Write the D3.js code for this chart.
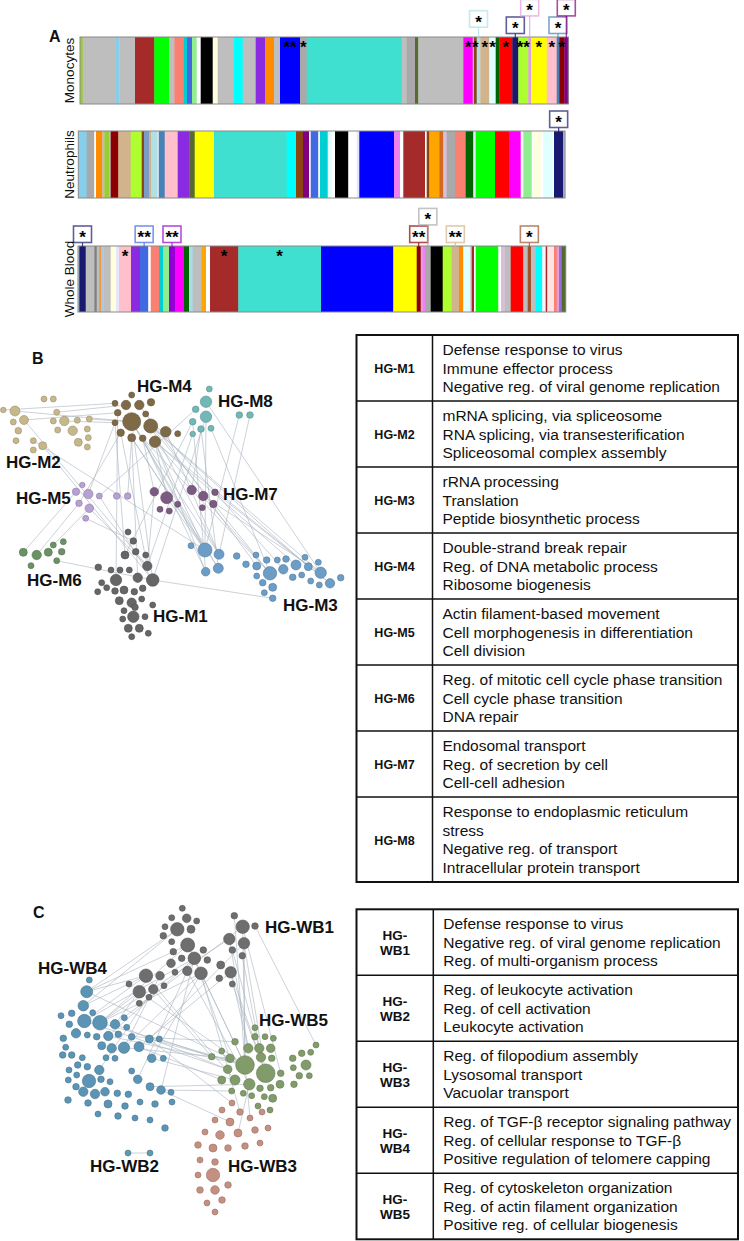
<!DOCTYPE html>
<html><head><meta charset="utf-8">
<script src="https://cdn.jsdelivr.net/npm/d3@7"></script>
<style>
body{margin:0;background:#fff}
svg{display:block}
text{font-family:"Liberation Sans",Arial,Helvetica,sans-serif}
</style>
</head><body>
<svg id="fig" width="744" height="1241"></svg>
<script>
// ---------------- DATA: Panel A (module colour bars) ----------------
const monoColors = ["yellowgreen","#bebebe","skyblue","#bebebe","brown","lime","#bebebe","salmon","darkturquoise","royalblue","lightgreen","white","black","lightyellow","#bebebe","cyan","#bebebe","blueviolet","darkorange","#bebebe","blue","darkgray","turquoise","#bebebe","darkgray","darkolivegreen","#bebebe","magenta","#bebebe","saddlebrown","powderblue","tan","lightcyan","darkgreen","red","midnightblue","greenyellow","plum","yellow","pink","steelblue","darkred","purple"];
const monoSizes = [2.7,33.3,3.3,15.7,19.3,15,5,9,3.7,5,4.7,4,12,5,16.3,8.7,13,9.3,9,6,20,6.7,95,5,8.3,3.3,45,9.4,1.3,2.7,3.6,9,6.4,3.6,13,6,10,2.7,15.7,10,2.6,5,4];
const monoStars = [[20,"**"],[21,"*"],[27,"*"],[29,"*"],[31,"*"],[32,"*"],[34,"*"],[36,"**"],[38,"*"],[39,"*"],[41,"*"]];
const monoBoxes = [[30,"*",0.36],[35,"*",0],[37,"*",1],[40,"*",0],[42,"*",1]];

const neutColors = ["skyblue","darkgray","white","darkorange","#bebebe","yellowgreen","#bebebe","darkred","tan","greenyellow","saddlebrown","#7a9cc6","tan","powderblue","white","steelblue","pink","blueviolet","darkolivegreen","yellow","turquoise","cyan","saddlebrown","purple","white","royalblue","white","darkturquoise","lightcyan","white","black","white","lavender","blue","violet","white","brown","white","saddlebrown","orange","chocolate","thistle","darkgray","salmon","darkgreen","lavender","lime","red","magenta","white","lightgreen","white","lightyellow","white","lightcyan","white","midnightblue","lightsteelblue"];
const neutSizes = [8.4,7.6,1.7,6.3,2,4.7,1.7,7.6,12.4,11,2.3,5,2,6.7,1,6,13,11.6,5.4,19.3,72.7,9.3,7,6,1.7,7.6,1.7,7.7,4,3.3,13.3,8.4,2.6,34.7,6,3.3,21.7,1.7,2.6,10,4,3.4,8.3,10.7,7.6,2.4,19.3,14,11.7,2.6,8.4,1.6,7.4,2.6,9.4,1.3,9.3,1.7];
const neutStars = [];
const neutBoxes = [[56,"*",0]];

const wbColors = ["lightsteelblue","midnightblue","#bebebe","gray","#bebebe","darkorange","lightsteelblue","#bebebe","lightyellow","lavender","pink","blueviolet","royalblue","white","salmon","darkturquoise","lightgreen","darkviolet","magenta","darkgreen","lightblue","#bebebe","orange","white","brown","turquoise","blue","yellow","darkred","plum","violet","darkgray","black","greenyellow","tan","darkorange","lightcyan","lightgray","brown","white","lime","white","thistle","#bebebe","red","#bebebe","sienna","#bebebe","cyan","lavenderblush","brown","mistyrose","salmon","plum","mediumpurple","darkolivegreen"];
const wbSizes = [1.3,6.4,8.6,2.4,2.6,1.4,2.6,7.4,5.3,3,12,9,8.3,2.4,8.3,4.3,5.7,6,9,5,3.7,9,4.3,4,28.3,82.7,72.3,23.4,4,1.6,2.7,5.7,12,9,7.3,4.3,6.7,1.7,2.3,1.7,22.6,2.7,4,5.7,12.6,4.4,3.3,4.7,6.6,3.4,1.6,6.7,2.7,2.3,2.7,4];
const wbStars = [[10,"*"],[24,"*"],[25,"*"]];
const wbBoxes = [[1,"*",0],[12,"**",0],[17,"**",0],[28,"**",0],[31,"*",1],[34,"**",0],[46,"*",0]];

const rowLabels = ["Monocytes","Neutrophils","Whole Blood"];

// ---------------- DATA: Panel B network ----------------
const colorsB = {M1:"#666666",M2:"#c6b88a",M3:"#6c9dc7",M4:"#7f6a48",M5:"#b7a1d2",M6:"#6b9265",M7:"#7c5b82",M8:"#72b8b6"};
const nodesM1 = [[128,532,3],[133.3,541,3.3],[125,555,4],[135.7,551.7,3.3],[145.7,555,3],[147.3,566,4.7],[98.3,567.3,3.3],[111,570,3],[120,570,3],[129.3,570,3],[116,580,5.7],[137.7,577.7,4.7],[152.7,580,6.3],[101.7,582.7,3],[106.7,587.7,3],[97.7,591.7,3],[115,591,3.3],[124,590,4],[134.3,591.7,3.3],[142.7,588.3,3.3],[119.3,600.7,4],[131.7,602.7,4.7],[141.7,599,3],[124,610.7,3],[135,607.3,3.3],[152.7,605,3],[133.3,616.7,5.7],[145,616.7,3],[122.7,619,3],[128.3,628.3,4],[139.3,628.3,4],[148.3,633.3,3],[131.7,636.7,3]];
const nodesM2 = [[3.3,410,2.8],[15,411,5],[44,399,3],[53.3,399,3],[13.3,422,3],[24,420,4.5],[18.3,430.7,3.3],[16,440.7,3],[33.3,440.7,3],[42.7,445.7,4],[33.3,450,3],[56.7,412.3,3],[53.3,421,3],[64.3,421,4.7],[77.3,420.3,3],[89.3,419,3],[57.7,430,3],[72.7,430.7,4.7],[87.3,429,3],[78.3,442.3,4],[88.3,437.7,3],[87.3,447,3]];
const nodesM3 = [[191,545.7,3],[205,550,7],[219,554.3,5],[205.7,571.7,4.3],[218.3,568.3,5],[236.7,556,3.3],[246,564.3,3.3],[256,555,3],[256.7,566,4],[266.7,560,3.3],[270,573.3,6.7],[256.7,576,3],[277.3,560,3],[286,559,3.3],[283.3,569.3,4.7],[296,565,5],[305,557.3,3],[308.3,566.7,4],[318.3,562.3,3],[320.7,572.7,5.7],[292.7,577.3,3.3],[301.7,575,3],[310.7,581,3],[319.3,585,3],[330,583.3,4.7],[340.7,577.7,3.3],[262.7,582.7,3.3],[272.7,587.3,4],[264.3,592.7,3],[272.7,598.3,3.3]];
const nodesM4 = [[131.7,395,3],[115,403.3,3],[126,405,4.7],[139.3,405,4.7],[151,402.3,3.7],[117.7,412.7,3.3],[145.7,414,3],[131.7,421.7,9],[150.7,426,7],[115,422.7,3],[120.7,432.7,3.7],[131.7,437.7,4],[142.7,438.3,3.3],[155,441.7,5.7],[165.7,431.7,5.3],[177.7,433.7,3]];
const nodesM5 = [[82.3,485,2.8],[76,491.7,3.7],[88.3,494,4.7],[99.3,496,3],[79,503.3,3.3],[89.3,508.3,4.3],[85.7,518.3,3],[116.7,496,3.3],[127.7,496,3.3]];
const nodesM6 = [[23.3,552.3,4],[36.7,555,4.7],[48.3,552.3,4],[53.3,545,3],[63.3,541.7,3],[61.7,551.7,3.3],[31,565.7,3],[56.7,560.7,3]];
const nodesM7 = [[154.3,491.7,4.3],[166.7,497.7,6],[177.7,504.3,3],[160,509.3,3],[169.3,511,3],[191.7,490,4.7],[203.3,496,4.7],[215,492.3,3.3],[213.3,504,3.7],[202.3,507.7,3]];
const nodesM8 = [[209.3,389,3],[206,401.7,5.7],[195.7,409.3,3.3],[206,416.7,5.7],[192.7,421.7,3.3],[201,429,3.3],[211,428.3,3],[192.7,434,2.8],[239.3,415,3.3],[250,415,3.3]];
const edgesB = ["M2.1-M4.7","M2.0-M4.1","M2.5-M4.5","M2.13-M4.9","M2.11-M4.2","M2.15-M4.7","M2.8-M3.1","M2.5-M1.5","M2.9-M1.12",
 "M4.7-M3.1","M4.7-M3.4","M4.8-M3.2","M4.8-M3.10","M4.13-M3.1","M4.13-M3.3","M4.11-M3.4","M4.12-M3.10","M4.8-M3.19","M4.13-M3.15","M4.3-M3.8","M4.6-M3.14","M4.13-M3.24","M4.8-M3.17","M4.14-M3.2","M4.11-M3.1","M4.12-M3.3","M4.7-M3.2","M4.13-M3.10",
 "M4.7-M1.12","M4.10-M1.5","M4.11-M1.11","M4.5-M1.10","M4.9-M1.2","M4.13-M7.1","M4.12-M7.0","M4.9-M5.2","M4.10-M5.4","M4.11-M5.8",
 "M8.3-M3.1","M8.4-M3.3","M8.5-M3.4","M8.8-M3.1","M8.9-M3.2","M8.6-M3.10","M8.7-M1.5","M8.3-M1.12","M8.2-M5.3","M8.5-M7.5","M8.1-M3.19","M8.4-M1.2",
 "M7.6-M3.19","M7.7-M3.24","M7.1-M3.1","M7.0-M1.5","M5.5-M1.5","M5.6-M1.1","M6.7-M1.12","M6.0-M5.1","M6.1-M5.4","M1.12-M3.29","M5.3-M1.12","M6.3-M5.5"];
const clusterLabelsB = [["HG-M4",137,392],["HG-M8",218,407],["HG-M2",6,468],["HG-M5",16,504],["HG-M7",223,500],["HG-M6",27,586],["HG-M1",153,622],["HG-M3",283,611]];

// ---------------- DATA: Panel C network ----------------
const colorsC = {WB1:"#6e6e6e",WB2:"#5e9aae",WB3:"#c49080",WB4:"#5b94b5",WB5:"#819c6a"};
const nodesWB1 = [[182.3,908.3,3],[171.7,917.7,3],[186.7,918.3,4.3],[196.7,921,3],[165,926.7,3],[177.3,929.3,6.7],[191,929.3,4],[163.3,935.7,3.3],[171.7,941.7,3],[187.7,945,7],[203.3,950,3.3],[173.3,951.7,3.3],[181.7,958.3,3.3],[194.3,958.3,6.3],[207.3,960,3.3],[171,963.3,4.3],[187.3,971,4.7],[201,973.3,6.3],[175,972.3,3],[234.3,915.7,3.3],[242.7,926.7,6.7],[255,926,3.3],[229.3,939,5.7],[244,943.3,5.7],[232.3,950,3.3],[242.3,955.7,3.3],[220.7,965,4],[230.7,972.3,5.7],[219.3,978.3,3.3],[232.3,984,3],[146,975.7,6.7],[160,975.7,4.3],[129,984,3],[139.3,991.7,6.3],[153.3,989.3,4.7],[164,985.7,3],[139.3,1003.3,3],[149,997.3,3]];
const nodesWB4 = [[89.3,980,3],[86.7,991.7,6],[83.3,1005.7,5.3],[92.7,1012.7,3],[61,1015.7,3],[71.7,1013.3,3.3],[84.3,1021,6.7],[100,1022.7,7.3],[69.3,1024.3,3.3],[115,1024.3,4.7],[124.3,1017.7,3],[76,1033.3,4.7],[87.3,1035,3],[96.7,1036.7,3.3],[108.3,1036,4.7],[118.3,1034.3,3.3],[126.7,1027.3,3],[63.3,1038.3,3.3],[131.7,1036.7,3.3],[149.3,1039,4],[159.3,1039,3],[101.7,1045.7,4],[111.7,1048.3,4.7],[124,1047.7,5.7],[139,1046.7,5],[65.7,1047.3,3],[62.7,1055,3.3],[71.7,1055,3.3],[82.3,1057.7,3],[106,1057.7,3],[115,1058.3,3],[151.7,1058.3,4.3],[163.3,1058.3,3],[77.7,1065,3.3],[87.3,1066.7,3.3],[99.3,1070,4.7],[69,1070,3],[76.7,1075,3],[131.7,1071,3],[89,1081,6.7],[101,1079.3,3.3],[110,1081.7,3],[68.3,1080,3],[137.7,1079.3,4.3],[150,1086.7,4],[161,1090,4.3],[171,1092.3,3],[76,1086.7,3.3],[83.3,1091.7,4.7],[95,1094,4.7],[105,1091.7,4.3],[117.3,1093.3,3.3],[128.3,1094.3,3.3],[68,1100,3.3],[88,1103,3.3],[108,1104,4],[125,1106,3.3],[140,1102,3],[155,1104,3.3],[172,1102,3],[98,1114,3],[118,1116,3.3],[135,1118,3],[150,1120,3],[165,1128,3.3]];
const nodesWB5 = [[255,1027.7,3],[255,1036.7,3.3],[265,1036.7,3],[273.3,1038.3,3],[235,1041.7,3.3],[248.3,1048.3,4.7],[259.3,1048.3,4.7],[270.7,1048.3,4.3],[211.7,1056.7,3.3],[221.7,1051,3],[230,1058.3,4.3],[261,1057.3,4.7],[271.7,1058.3,3.3],[245,1065,9.3],[265.7,1073.3,9.3],[227.7,1069.3,4.3],[221.7,1080,4],[235,1080,5],[249.3,1084.3,5.7],[260,1088.3,3.3],[270.7,1087.7,3.3],[280,1084.3,4],[280.7,1073.3,3.3],[294,1084.3,3.3],[292.7,1058.3,3.3],[301.7,1053.3,3.3],[310.7,1052.3,3],[316,1045,3],[306,1065,5],[293.3,1067.7,3],[299.3,1075.7,3.3],[309.3,1075.7,3],[251.7,1095.7,3],[264.3,1096.7,3],[272.7,1098.3,4],[231.7,1091,3],[243.3,1093.3,3],[258,1106,3],[270,1110,3]];
const nodesWB3 = [[232,1103,3],[222,1110,3],[240,1112,3.3],[215,1120,3],[230,1122,4],[250,1118,3],[262,1112,3],[205,1132,3],[220,1135,4.3],[238,1133,4],[255,1130,3.3],[268,1128,3],[198,1145,3.3],[213,1148,4],[228,1148,3.3],[245,1146,3.3],[260,1143,3],[200,1160,3],[215,1162,3.3],[213,1175,6.7],[198,1175,3],[200,1190,3.3],[215,1190,4.3],[228,1185,3.3],[207,1203,3],[222,1200,3.3],[215,1212,3]];
const nodesWB2 = [[128,1153,3],[150,1153,3]];
const edgesC = ["WB2.0-WB2.1",
 "WB1.5-WB4.1","WB1.9-WB4.1","WB1.13-WB4.6","WB1.9-WB4.7","WB1.17-WB4.7","WB1.30-WB4.1","WB1.30-WB4.6","WB1.33-WB4.9","WB1.33-WB4.7","WB1.13-WB4.14","WB1.17-WB4.23","WB1.20-WB4.9","WB1.22-WB4.7","WB1.27-WB4.24","WB1.23-WB4.19","WB1.17-WB4.31","WB1.16-WB4.43","WB1.13-WB4.45","WB1.5-WB4.2","WB1.30-WB4.2","WB1.31-WB4.23","WB1.34-WB4.35",
 "WB1.20-WB5.13","WB1.23-WB5.13","WB1.27-WB5.14","WB1.22-WB5.5","WB1.17-WB5.13","WB1.13-WB5.10","WB1.9-WB5.13","WB1.20-WB5.22","WB1.25-WB5.11","WB1.24-WB5.6","WB1.29-WB5.14","WB1.33-WB5.13","WB1.30-WB5.17","WB1.34-WB5.8","WB1.16-WB5.18","WB1.21-WB5.27","WB1.19-WB5.13","WB1.23-WB5.14","WB1.27-WB5.5",
 "WB4.7-WB5.13","WB4.9-WB5.15","WB4.19-WB5.13","WB4.24-WB5.16","WB4.23-WB5.10","WB4.31-WB5.17","WB4.44-WB5.18","WB4.45-WB5.35","WB4.20-WB5.8","WB4.18-WB5.4","WB4.14-WB5.13","WB4.6-WB5.15","WB4.1-WB5.13",
 "WB3.0-WB4.19","WB3.2-WB1.17","WB3.5-WB5.13","WB3.4-WB4.45","WB3.9-WB5.18"];
const clusterLabelsC = [["HG-WB1",265,933],["HG-WB4",38,974],["HG-WB5",259,1026],["HG-WB2",90,1172],["HG-WB3",228,1172]];

// ---------------- DATA: tables ----------------
const modulesB = ["HG-M1","HG-M2","HG-M3","HG-M4","HG-M5","HG-M6","HG-M7","HG-M8"];
const termsB = [
 ["Defense response to virus","Immune effector process","Negative reg. of viral genome replication"],
 ["mRNA splicing, via spliceosome","RNA splicing, via transesterification","Spliceosomal complex assembly"],
 ["rRNA processing","Translation","Peptide biosynthetic process"],
 ["Double-strand break repair","Reg. of DNA metabolic process","Ribosome biogenesis"],
 ["Actin filament-based movement","Cell morphogenesis in differentiation","Cell division"],
 ["Reg. of mitotic cell cycle phase transition","Cell cycle phase transition","DNA repair"],
 ["Endosomal transport","Reg. of secretion by cell","Cell-cell adhesion"],
 ["Response to endoplasmic reticulum","stress","Negative reg. of transport","Intracellular protein transport"]];
const modulesC = [["HG-","WB1"],["HG-","WB2"],["HG-","WB3"],["HG-","WB4"],["HG-","WB5"]];
const termsC = [
 ["Defense response to virus","Negative reg. of viral genome replication","Reg. of multi-organism process"],
 ["Reg. of leukocyte activation","Reg. of cell activation","Leukocyte activation"],
 ["Reg. of filopodium assembly","Lysosomal transport","Vacuolar transport"],
 ["Reg. of TGF-β receptor signaling pathway","Reg. of cellular response to TGF-β","Positive regulation of telomere capping"],
 ["Reg. of cytoskeleton organization","Reg. of actin filament organization","Positive reg. of cellular biogenesis"]];

// ---------------- DRAWING ----------------
const svg = d3.select("#fig");

// Panel letters
[["A",49,42],["B",32,364],["C",33,918]].forEach(([t,x,y]) =>
  svg.append("text").attr("x",x).attr("y",y).text(t)
     .attr("font-size",16).attr("font-weight","bold").attr("fill","#111"));

function drawRow(colors, sizes, stars, boxes, x0, x1, y0, y1, label) {
  const starts = [0, ...d3.cumsum(sizes)].slice(0, sizes.length);
  const x = d3.scaleLinear().domain([0, d3.sum(sizes)]).range([x0, x1]);
  const g = svg.append("g");
  g.selectAll("rect.seg").data(sizes).join("rect").attr("class","seg")
    .attr("x",(d,i)=>x(starts[i])).attr("width",(d,i)=>Math.max(0.5,x(starts[i]+d)-x(starts[i])+0.35))
    .attr("y",y0).attr("height",y1-y0).attr("fill",(d,i)=>colors[i]);
  g.append("rect").attr("x",x0).attr("y",y0).attr("width",x1-x0).attr("height",y1-y0)
    .attr("fill","none").attr("stroke","#8a8a8a").attr("stroke-width",1);
  const mid = i => x(starts[i] + sizes[i]/2);
  g.selectAll("text.star").data(stars).join("text").attr("class","star")
    .attr("x",d=>mid(d[0])).attr("y",y0+16).attr("text-anchor","middle")
    .attr("font-size",17).attr("font-weight","bold").attr("fill","#000").text(d=>d[1]);
  boxes.forEach(([i,t,lvl]) => {
    const cx = mid(i), bottom = y0 - 3.5 - lvl*17.6, top = bottom - 16.5;
    const c = colors[i];
    g.append("line").attr("x1",cx).attr("x2",cx).attr("y1",bottom).attr("y2",y0+2)
      .attr("stroke",c).attr("stroke-width",1.2).attr("opacity",0.8);
    g.append("rect").attr("x",cx-9).attr("y",top).attr("width",18).attr("height",16.5)
      .attr("fill","#fff").attr("stroke",c).attr("stroke-opacity",0.7).attr("stroke-width",1.6);
    g.append("text").attr("x",cx).attr("y",top+17).attr("text-anchor","middle")
      .attr("font-size",17).attr("font-weight","bold").attr("fill","#000").text(t);
  });
  svg.append("text").attr("transform",`translate(74,${(y0+y1)/2}) rotate(-90)`)
    .attr("text-anchor","middle").attr("font-size",13.5).attr("fill","#111").text(label);
}
drawRow(monoColors, monoSizes, monoStars, monoBoxes, 80, 568.3, 37, 104, rowLabels[0]);
drawRow(neutColors, neutSizes, neutStars, neutBoxes, 78.3, 565, 131, 198, rowLabels[1]);
drawRow(wbColors, wbSizes, wbStars, wbBoxes, 78, 565.7, 246, 312, rowLabels[2]);

// Networks
function drawNetwork(clusters, colors, edges, labels) {
  const sx = d3.scaleLinear().domain([0,1]).range([0,1]);
  const sy = d3.scaleLinear().domain([0,1]).range([0,1]);
  const sr = d3.scaleLinear().domain([0,1]).range([0,1]);
  const idx = {};
  Object.entries(clusters).forEach(([k,arr]) => arr.forEach((n,i)=> idx[k+"."+i] = n));
  const g = svg.append("g");
  const eds = edges.map(e => e.split("-").map(s => idx[s]));
  g.selectAll("line").data(eds).join("line")
    .attr("x1",d=>sx(d[0][0])).attr("y1",d=>sy(d[0][1])).attr("x2",d=>sx(d[1][0])).attr("y2",d=>sy(d[1][1]))
    .attr("stroke","#a9b3c0").attr("stroke-opacity",0.75).attr("stroke-width",0.8);
  Object.entries(clusters).forEach(([k,arr]) => {
    const c = colors[k];
    g.selectAll("circle."+k).data(arr).join("circle").attr("class",k)
      .attr("cx",d=>sx(d[0])).attr("cy",d=>sy(d[1])).attr("r",d=>sr(d[2]))
      .attr("fill",c).attr("stroke",d3.color(c).darker(0.7)).attr("stroke-width",0.6);
  });
  labels.forEach(([t,x,y]) => g.append("text").attr("x",x).attr("y",y).text(t)
    .attr("font-size",17).attr("font-weight","bold").attr("fill","#111"));
}
drawNetwork({M2:nodesM2,M4:nodesM4,M8:nodesM8,M5:nodesM5,M7:nodesM7,M6:nodesM6,M1:nodesM1,M3:nodesM3}, colorsB, edgesB, clusterLabelsB);
drawNetwork({WB1:nodesWB1,WB4:nodesWB4,WB5:nodesWB5,WB3:nodesWB3,WB2:nodesWB2}, colorsC, edgesC, clusterLabelsC);

// Tables
function drawTable(names, terms, top, left, divX, right, headSize) {
  const g = svg.append("g");
  const heights = terms.map(t => 66 + 19*(t.length-3));
  const tops = [top, ...d3.cumsum(heights).map(v=>v+top)];
  const bottom = tops[tops.length-1];
  heights.forEach((h,i) => {
    const t0 = tops[i], cy = t0 + h/2;
    if (i>0) g.append("line").attr("x1",left).attr("x2",right).attr("y1",t0).attr("y2",t0).attr("stroke","#111").attr("stroke-width",1.5);
    const nm = Array.isArray(names[i]) ? names[i] : [names[i]];
    nm.forEach((s,j) => g.append("text").attr("x",(left+divX)/2)
      .attr("y", cy + 5 + (j - (nm.length-1)/2)*15.5).attr("text-anchor","middle")
      .attr("font-size",headSize).attr("font-weight","bold").attr("fill","#111").text(s));
    terms[i].forEach((s,j) => g.append("text").attr("x",divX+10).attr("y",t0+20+j*18.5)
      .attr("font-size",15.5).attr("fill","#111").text(s));
  });
  g.append("line").attr("x1",divX).attr("x2",divX).attr("y1",top).attr("y2",bottom).attr("stroke","#111").attr("stroke-width",1.5);
  g.append("rect").attr("x",left).attr("y",top).attr("width",right-left).attr("height",bottom-top)
    .attr("fill","none").attr("stroke","#111").attr("stroke-width",2);
}
drawTable(modulesB, termsB, 335, 356.5, 432.5, 738, 12.5);
drawTable(modulesC, termsC, 909.3, 356.5, 433.3, 738, 13.5);
</script>
</body></html>
